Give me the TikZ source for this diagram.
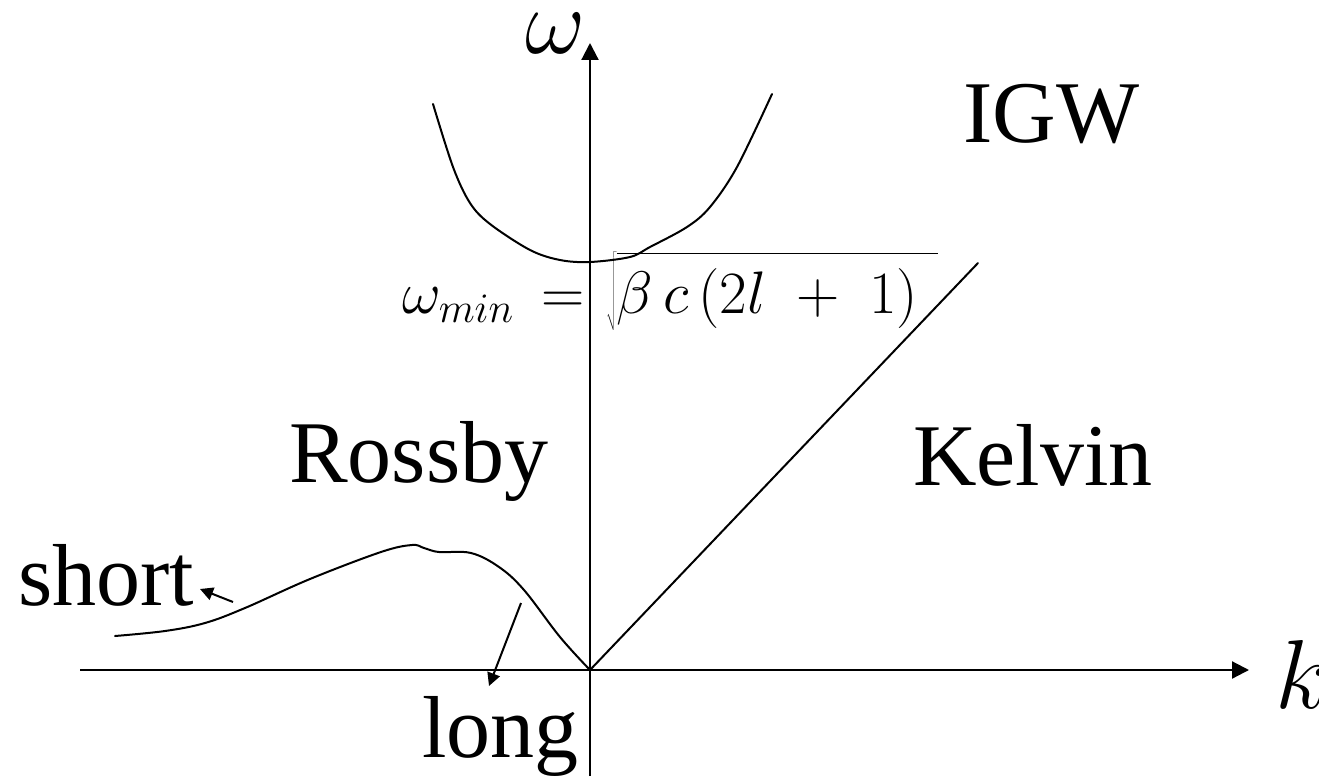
\RequirePackage{fix-cm}
\documentclass[tikz,border=0pt]{standalone}
\usepackage{fontspec}
\setmainfont{Liberation Serif}
\usetikzlibrary{arrows.meta}
\begin{document}
\begin{tikzpicture}[x=1pt,y=-1pt,
  lbl/.style={inner sep=0pt, anchor=base west, font=\fontsize{88}{100}\selectfont},
  fml/.style={inner sep=0pt, font=\fontsize{60}{70}\selectfont},
  ax/.style={line width=2.2pt, -{Triangle[length=17pt,width=17pt]}},
  crv/.style={line width=2pt, line join=round, line cap=round},
  ptr/.style={line width=2pt, -{Triangle[length=13pt,width=13pt]}}]
\useasboundingbox (0,0) rectangle (1319,776);
% axes
\coordinate (O) at (590,670);
\coordinate (xs) at (80,670);
\coordinate (xe) at (1249,670);
\coordinate (ys) at (590,776);
\coordinate (ye) at (590,43);
\draw[ax] (xs) -- (xe);
\draw[ax] (ys) -- (ye);
\node[inner sep=0pt, anchor=base west, font=\fontsize{98}{110}\selectfont] (k) at (1275,708) {$k$};
\node[inner sep=0pt, font=\fontsize{93}{100}\selectfont] (w) at (556,33) {$\omega$};
% IGW branch
\draw[crv] plot[smooth, tension=0.55] coordinates {(433,104) (453,167) (470,203) (490,224) (530,250) (560,260) (590,262) (630,257) (650,247) (687,227) (710,207) (737,167) (772,94)};
% Kelvin
\coordinate (K) at (978,263);
\draw[crv] (O) -- (K);
% Rossby
\draw[crv] plot[smooth, tension=0.6] coordinates {(115,636) (165,631) (205,623) (245,608) (310,579) (381,552) (412,545) (424,548) (439,552) (471,553) (499,567) (524,590) (560,637) (590,670)};
% labels
\node[lbl] (igw) at (963,142) {IGW};
\node[lbl] (ross) at (289,482) {Rossby};
\node[lbl] (kel) at (913,485) {Kelvin};
\node[lbl] (short) at (18,605) {short};
\node[lbl] (long) at (422,757) {long};
% omega_min formula
\node[fml, anchor=base east] (wmin) at (514,313) {$\omega_{min}$};
\node[fml, anchor=base] (eq) at (563,313) {$=$};
\node[fml, anchor=base west] (root) at (606,313) {$\sqrt{\vrule height 0.95em depth 0.22em width 0pt\beta\,c\,(2l\;+\;1)\,\,}$};
% pointers
\coordinate (s1) at (233,602);
\coordinate (s2) at (200,589);
\draw[ptr] (s1) -- (s2);
\coordinate (l1) at (521,603);
\coordinate (l2) at (489,686);
\draw[ptr] (l1) -- (l2);
\end{tikzpicture}
\end{document}
